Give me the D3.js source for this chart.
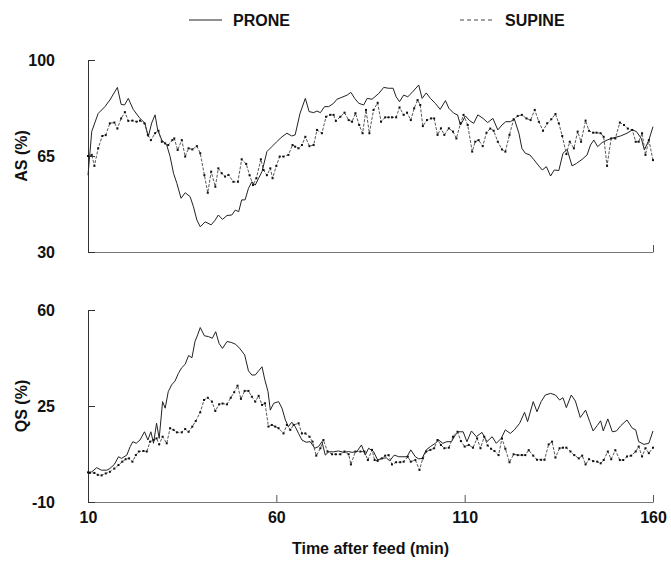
<!DOCTYPE html>
<html lang="en">
<head>
  <meta charset="UTF-8">
  <title>AS / QS after feed</title>
  <script src="https://d3js.org/d3.v7.min.js"></script>
  <style>
    body { margin: 0; background: #fff; font-family: "Liberation Sans", Arial, sans-serif; }
    .lbl { font-size: 16px; font-weight: bold; fill: #111; }
    .axis text { font-size: 16px; font-weight: bold; fill: #111; font-family: "Liberation Sans", Arial, sans-serif; }
    .prone { fill: none; stroke: #222; stroke-width: 1px; }
    .supine { fill: none; stroke: #444; stroke-width: 0.9px; stroke-dasharray: 3 1.5; }
  </style>
</head>
<body>
<svg width="671" height="564"></svg>

<script>
// [minute, %]
const asProne = [[10,58],[11,74],[12.7,80.5],[14.5,83],[15.8,85.4],[17.8,90],[18.8,83.8],[19.7,83.6],[20.7,86],[22,82],[23.8,78.7],[25.1,77],[26,72],[26.9,77],[27.8,80],[28.5,74.5],[29.6,70.8],[30.9,69],[31.8,64.8],[32.7,58.7],[33.6,55],[34.7,49.6],[35.8,51.6],[37.1,50.2],[38,46.5],[38.9,41.7],[39.8,39.2],[41.1,41],[42.7,39.9],[43.8,41.7],[44.6,43.5],[45.7,41.9],[46.9,43.3],[48.2,43.5],[49.1,45.3],[50,44.7],[50.8,49],[51.7,49],[52.6,53.2],[53.5,55.6],[54.4,54.4],[55.3,56.9],[56.2,59.3],[57.5,66.6],[58.8,68.4],[60.1,70.2],[61.5,72],[62.8,73.3],[64.1,72.3],[65,72.7],[66.3,80.6],[67.7,86],[68.7,81.2],[69.9,80.8],[70.8,81.4],[71.7,80.8],[72.8,83],[73.9,83],[75.2,84.2],[76.1,85.7],[77.4,86.4],[78.8,87.2],[79.8,88.2],[80.8,86],[81.9,84.2],[83.2,83.6],[84.1,86],[85.4,85.7],[87.2,87.8],[88.5,90],[89.8,89.7],[91,89.7],[91.8,86.6],[92.7,84.8],[93.8,87.2],[94.9,86.6],[96,88.1],[97.8,90.9],[98.7,86],[99.8,88],[100.9,86],[102.2,84.2],[103.5,82],[104.9,85.2],[105.8,82.4],[107.1,80.6],[108.1,80],[108.9,76.3],[110.2,79.6],[111.3,77.9],[112.4,76.9],[113.5,80],[114.9,78.7],[116.1,77.2],[117.5,78.7],[118.8,74.5],[119.9,76.3],[120.9,77.5],[122.1,77.5],[123.2,78.4],[124.4,73.3],[125.2,67.8],[126.1,66],[127.3,65.4],[128.3,63.8],[129.5,61.7],[130.6,59.9],[131.7,61.1],[132.8,57.7],[133.8,59.9],[135,59.7],[136.1,66],[137.2,67.4],[138.5,61.4],[139.7,62.3],[141.2,63.8],[142.5,65.4],[143.4,69],[144.3,70.8],[145.3,68.4],[146.5,69.9],[147.8,70.8],[148.9,71.4],[150,71.8],[151.4,72.3],[153.1,73.3],[154.5,74.5],[155.6,73.9],[156.9,71.4],[157.7,67.2],[158.9,70.8],[160,75.7]];

const asSupine = [[10,65],[11,65.4],[11.7,61.4],[12.7,67.8],[13.8,72.3],[14.7,72.6],[15.8,76.9],[17,77.2],[17.8,75],[18.8,78.7],[19.8,81],[20.7,77.8],[21.8,77.9],[22.9,77.5],[23.8,77.9],[25,76.9],[25.9,72.7],[26.7,70.8],[27.8,73.3],[28.7,74.2],[29.6,70.2],[30.5,69.6],[31.3,69],[32.4,70.8],[32.9,71.4],[33.8,67.2],[34.9,70.8],[35.8,64.8],[36.7,67.8],[37.7,67.4],[38.9,68.6],[39.8,66],[40.9,58],[41.8,51.6],[42.7,59.3],[43.8,53.8],[44.6,60.5],[45.5,58.7],[46.4,57.5],[47.3,58.1],[48.6,55.6],[49.8,55.6],[50.8,63.8],[52,62.1],[52.9,58],[53.8,54.4],[54.7,56.9],[55.9,63.8],[56.6,59.9],[57.5,58],[58.4,60.5],[59,56.9],[60,61.4],[60.9,64.8],[61.9,64.8],[63.2,65.4],[64.3,69],[65,68.4],[65.9,67.8],[66.8,69],[67.7,72],[68.8,68.6],[69.9,69],[70.8,74.5],[72.1,73.3],[73.2,79.3],[74.3,80],[75.2,80],[75.8,77.8],[77,79.3],[78.1,80.8],[79.2,78.1],[80.1,77.5],[81,80.6],[82,76.3],[82.9,73.3],[83.8,81.8],[84.7,73.3],[85.8,81.8],[86.9,84.4],[87.8,77.5],[88.9,79.1],[89.8,79.1],[90.7,79.1],[91.8,79.1],[92.7,82.7],[93.8,80],[94.7,80.8],[95.7,78.1],[96.6,82.4],[97.5,85.4],[98.2,83.6],[98.9,75.9],[100,78.1],[101.1,78.7],[101.9,78.7],[102.8,72.7],[103.7,75.1],[104.6,72.7],[105.8,75.1],[106.9,73.9],[107.8,71.4],[108.9,76.9],[109.7,80],[110.8,76.3],[112,66.6],[112.8,70.2],[113.7,70.8],[114.8,68.6],[115.8,73.5],[116.8,75],[117.7,74.2],[118.8,70.2],[119.9,67.4],[120.8,66.6],[121.9,72.7],[123,78.4],[124.1,79.6],[125.2,80],[126.4,78.7],[127.5,78.1],[128.6,81.8],[129.7,77.5],[130.8,74.2],[131.9,76.9],[133,78.4],[134.1,80.3],[135,76.9],[135.9,72.3],[137,65.7],[137.9,70.2],[139,67.8],[140,73.9],[140.9,70.2],[142.1,77.9],[143,74.2],[144.1,73.5],[145,73.5],[146.1,73.3],[146.9,72],[147.8,61.4],[148.9,71.4],[150,71.4],[151.2,77.2],[152.3,76.3],[153.3,75],[154.5,74.5],[155.4,70.2],[156.2,70.2],[157.1,73.3],[158,65.4],[158.9,70.8],[160,63.5]];

const qsProne = [[10,0.8],[11,1],[12.3,2.5],[13.6,1.6],[15,1.6],[15.8,2.2],[17,3.7],[18.1,6.5],[18.9,5.9],[20.3,7.1],[21.2,10.2],[21.9,12],[22.8,11.4],[23.8,12.6],[25,15.6],[25.9,12.6],[26.7,15.6],[27.4,11.4],[28.2,18.7],[28.9,13.2],[29.8,26.6],[30.5,24.2],[31.3,30.2],[32.2,32.7],[33.1,34.1],[34,36.9],[34.9,39],[35.8,40.2],[36.7,43.4],[37.6,42.6],[38.4,48.5],[39.1,50.9],[39.8,53.6],[40.9,50.6],[42,50.3],[43,49.7],[43.9,52.1],[44.8,47.8],[45.7,46],[46.9,48.5],[48,48.2],[49.2,47.5],[50.4,45.8],[51.6,43.6],[52.6,37.8],[53.5,36.3],[54.4,36.3],[55.3,37.8],[56.2,39.3],[56.9,34.8],[57.8,30.2],[58.4,23.5],[59.3,26],[60.6,26.6],[61.5,24.2],[62.4,19.9],[63.2,17.5],[64.1,19.1],[65,17.5],[65.9,15],[66.8,12.6],[67.9,11.8],[69,12],[70.2,9.6],[71.2,10.2],[72.1,12],[73,7.1],[73.9,8.3],[75.2,8.3],[76.5,8.6],[77.9,8.1],[79.2,8.4],[80.1,8.1],[81.4,8.4],[82.6,10.8],[83.6,7.1],[84.5,9.6],[85.8,8.4],[86.9,5.3],[88,5.9],[89.2,6.1],[90.1,5],[91.3,7.1],[92.5,6.5],[93.6,6.5],[94.7,6.5],[95.7,9],[96.9,6.5],[97.8,5.7],[98.7,5.9],[99.8,9],[100.9,10.2],[102.2,11.4],[103.1,12.6],[104.2,11.4],[105.3,12],[106.5,12],[107.5,14.4],[108.4,15.6],[109.6,15.6],[110.6,12],[111.8,15.9],[113.1,13.8],[114.6,15.4],[115.9,12],[117.3,13.8],[118.4,11.4],[119.7,13.2],[120.8,16.3],[122.1,15],[123.2,16.3],[124.6,18.7],[125.9,22.7],[126.7,19.3],[128.2,26.6],[129.2,22.9],[130.3,26.6],[131.4,29],[132.8,29.6],[134.1,29],[135.2,27.2],[136.1,28],[137,24.4],[138.3,29],[139.4,26.8],[140.7,20.8],[142.1,23.5],[143.2,19.3],[144.1,15.9],[145.2,17.9],[146.1,19.6],[146.8,15.9],[148,20.3],[149.2,15.6],[150.3,15.9],[151.5,17.9],[153.1,19.9],[154.5,16.9],[155.4,16.3],[156.2,12],[157.6,11],[158.9,11.4],[160,15.9]];

const qsSupine = [[10,0.8],[10.5,0.6],[11.7,0.6],[12.6,-0.1],[13.6,-0.3],[14.7,0.4],[15.8,1],[17,2.2],[18.1,3.5],[19.1,4.7],[20,5.6],[20.9,5.9],[21.8,4.7],[22.7,7.1],[23.5,8.4],[24.7,8.6],[25.6,8.4],[26.5,12],[27.4,12.6],[28.2,13.2],[28.9,11],[29.8,13.8],[30.9,11.4],[31.8,16.9],[32.7,16.3],[33.6,15.4],[34.9,15.4],[35.8,16.6],[36.7,15.6],[37.7,17.5],[38.6,19.5],[39.8,22.7],[40.8,27.2],[41.8,28],[42.9,26.6],[43.8,23.2],[44.8,25.6],[45.7,25.9],[46.9,25.6],[47.9,28],[48.8,30],[49.7,32.4],[50.6,27.6],[51.6,30.5],[52.6,30.5],[53.5,28.4],[54.4,26.6],[55.3,28.7],[56.2,25.4],[57,26],[57.9,17.5],[58.8,18.1],[59.7,17.5],[60.6,16.9],[61.9,15],[62.8,18.1],[63.7,16.3],[64.6,18.1],[65.9,18.7],[66.8,15],[67.7,15],[68.8,13.8],[69.6,12],[70.6,6.9],[71.7,9.6],[72.5,12.6],[73.6,8.4],[74.8,7.4],[75.8,7.4],[77,7.4],[78.1,8.4],[79.2,7.4],[79.8,3.7],[81,8.4],[82.3,8.4],[83.4,8.4],[84.3,5.3],[85.4,9],[86.1,5.3],[86.9,5],[88,5.9],[88.9,6.9],[89.8,7.1],[90.7,3.7],[91.8,4.5],[92.9,4.5],[93.8,4.7],[94.9,6.5],[95.7,4.7],[96.9,5.3],[98,1.7],[98.9,5.9],[99.8,8.4],[100.9,9],[101.9,9.6],[102.8,12.6],[103.7,10.8],[104.6,9.6],[105.8,9.8],[106.9,13.8],[108.1,15.6],[109,12.2],[110,10.2],[111.1,10.8],[112.2,9.8],[113.3,13.2],[114.2,9.6],[115.2,13.8],[116.1,10.6],[117,9.4],[117.9,8.6],[119,7.1],[119.9,13.2],[120.8,9.4],[121.9,4.5],[123,7.4],[124.1,7.1],[125.2,7.1],[126.1,7.1],[127,8.9],[128.2,6.9],[129.2,5.4],[130.3,5.4],[131.2,5.4],[132.3,11],[133.2,12],[134.1,6.2],[135.2,9.6],[136.1,9.8],[137,9.8],[138.1,8.4],[139.1,7.1],[140.3,5.9],[141.2,6.9],[142.1,3.7],[143,5.6],[144.1,4.9],[145.2,4.7],[146.1,4.1],[146.9,5.3],[148,8.4],[148.9,5.6],[150,8.9],[151.2,5.3],[152.1,5.3],[153.1,6.6],[154.2,6.9],[155.4,8.4],[156.2,10.2],[157.1,6.6],[158,9.6],[158.9,7.8],[160,9.8]];

const xTicks = [10, 60, 110, 160];
const asTicks = [30, 65, 100];
const qsTicks = [-10, 25, 60];

const svg = d3.select("svg");
const left = 88, right = 653;

const x = d3.scaleLinear().domain([10, 160]).range([left, right]);

const panels = [
  { label: "AS (%)", ticks: asTicks, prone: asProne, supine: asSupine, top: 60, bottom: 252, xlab: false },
  { label: "QS (%)", ticks: qsTicks, prone: qsProne, supine: qsSupine, top: 310, bottom: 502, xlab: true }
];

panels.forEach(p => {
  const y = d3.scaleLinear().domain([p.ticks[0], p.ticks[2]]).range([p.bottom, p.top]);

  // bottom axis
  const xa = svg.append("g")
    .attr("class", "axis")
    .attr("transform", `translate(0,${p.bottom})`)
    .call(d3.axisBottom(x).tickValues(p.xlab ? xTicks.slice(1) : [160]).tickSize(-7).tickSizeOuter(0).tickFormat(""));
  xa.select(".domain").attr("stroke", "#777");
  xa.selectAll(".tick line").attr("stroke", "#555");

  if (p.xlab) {
    svg.append("g")
      .attr("class", "axis")
      .attr("transform", `translate(0,${p.bottom})`)
      .call(d3.axisBottom(x).tickValues(xTicks).tickSize(0).tickPadding(10))
      .call(g => g.select(".domain").remove());
  }

  // left axis
  const ya = svg.append("g")
    .attr("class", "axis")
    .attr("transform", `translate(${left},0)`)
    .call(d3.axisLeft(y).tickValues(p.ticks).tickSize(-7).tickSizeOuter(0).tickPadding(33).tickFormat(d => String(d)));
  ya.select(".domain").attr("stroke", "#333");
  ya.selectAll(".tick line").attr("stroke", "#333");

  svg.append("text")
    .attr("class", "lbl")
    .attr("transform", `translate(27,${(p.top + p.bottom) / 2}) rotate(-90)`)
    .attr("text-anchor", "middle")
    .text(p.label);

  const line = d3.line().x(d => x(d[0])).y(d => y(d[1]));

  svg.append("path").datum(p.prone).attr("class", "prone").attr("d", line);
  svg.append("path").datum(p.supine).attr("class", "supine").attr("d", line);

  svg.append("g").selectAll("rect")
    .data(p.supine)
    .join("rect")
    .attr("x", d => x(d[0]) - 1)
    .attr("y", d => y(d[1]) - 1)
    .attr("width", 2)
    .attr("height", 2)
    .attr("fill", "#111");
});

svg.append("text")
  .attr("class", "lbl")
  .attr("x", (left + right) / 2)
  .attr("y", 554)
  .attr("text-anchor", "middle")
  .text("Time after feed (min)");

// legend
svg.append("line").attr("x1", 189).attr("x2", 222).attr("y1", 20).attr("y2", 20)
  .attr("stroke", "#222").attr("stroke-width", 1);
svg.append("text").attr("class", "lbl").attr("x", 233).attr("y", 26).text("PRONE");
svg.append("line").attr("x1", 460).attr("x2", 492).attr("y1", 20).attr("y2", 20)
  .attr("stroke", "#444").attr("stroke-width", 1).attr("stroke-dasharray", "4 3");
svg.append("text").attr("class", "lbl").attr("x", 505).attr("y", 26).text("SUPINE");
</script>
</body>
</html>
